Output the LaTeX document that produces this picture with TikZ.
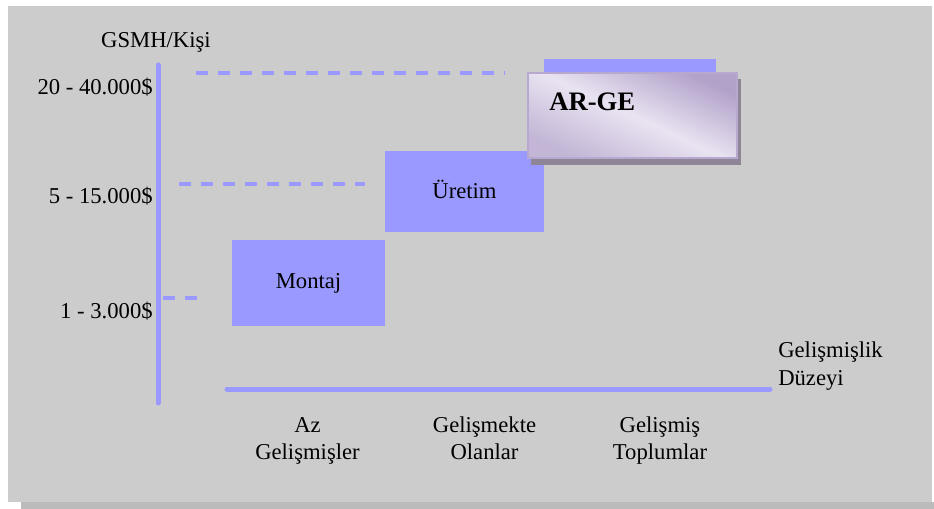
\documentclass[tikz,border=0pt]{standalone}
\usepackage{fontspec}
\setmainfont{Liberation Serif}
\usetikzlibrary{positioning}
\definecolor{barblue}{HTML}{9999FF}
\definecolor{panel}{HTML}{CCCCCC}
\definecolor{panelshade}{HTML}{BBBBBB}
\definecolor{lavlight}{HTML}{E9E3F1}
\definecolor{lavdark}{HTML}{B2A2CA}
\definecolor{lavedge}{HTML}{B6A8CE}
\definecolor{boxshade}{HTML}{8E8696}

\begin{document}
\begin{tikzpicture}[x=0.75pt, y=-0.75pt,
    every node/.style={font=\fontsize{17}{20.25}\selectfont, inner sep=0pt, text=black},
    level/.style={fill=barblue, draw=none},
    axisline/.style={barblue, line width=3.75pt, line cap=round},
    guide/.style={barblue, line width=3pt, dash pattern=on 9pt off 7.5pt},
    ticklabel/.style={anchor=base east},
    grouplabel/.style={anchor=base, align=center}]
    % panel
    \useasboundingbox (0,0) rectangle (934,509);
    \fill[panelshade] (21,502) rectangle (934,509);
    \fill[panel] (8,6) rectangle (932,502);
    % axes
    \coordinate (ytop) at (158,65);
    \coordinate (ybot) at (158,403);
    \coordinate (xl) at (227,389);
    \coordinate (xr) at (770,389);
    \draw[axisline] (ytop) -- (ybot);
    \draw[axisline] (xl) -- (xr);
    % levels
    \fill[barblue] (544,59) rectangle (716,110);
    \node[level, minimum width=114.75pt, minimum height=64.5pt] (montaj) at (308.5,283) {Montaj\hspace{10.5pt}};
    \node[level, minimum width=119.25pt, minimum height=60.75pt] (uretim) at (464.5,191.5) {\raisebox{3pt}{Üretim}};
    \fill[boxshade] (531,79) rectangle (741,165);
    \node[draw=lavedge, line width=1.5pt, shade, shading=axis, top color=lavdark,
      bottom color=lavdark!70!lavlight, middle color=lavlight, shading angle=-25,
      minimum width=156.75pt, minimum height=63.75pt] (arge) at (632.5,115.5) {};
    \node[anchor=base west, font=\fontsize{20}{24}\selectfont\bfseries] (argetxt) at (549,111) {AR-GE};
    % guides
    \coordinate (g1a) at (196,73);
    \coordinate (g1b) at (505,73);
    \coordinate (g2a) at (179,184);
    \coordinate (g2b) at (365,184);
    \coordinate (g3a) at (163,298);
    \coordinate (g3b) at (200,298);
    \draw[guide] (g1a) -- (g1b);
    \draw[guide] (g2a) -- (g2b);
    \draw[guide] (g3a) -- (g3b);
    % labels
    \node[anchor=base] (ytitle) at (156,48) {GSMH/Kişi};
    \node[ticklabel] (t1) at (153,95) {20 - 40.000\$};
    \node[ticklabel] (t2) at (153,204) {5 - 15.000\$};
    \node[ticklabel] (t3) at (153,318) {1 - 3.000\$};
    \node[anchor=base west, align=left, font=\fontsize{17}{21}\selectfont] (xtitle) at (778,385) {Gelişmişlik\\Düzeyi};
    \node[grouplabel] (az) at (307.5,459) {Az\\Gelişmişler};
    \node[grouplabel] (gelismekte) at (484.5,459) {Gelişmekte\\Olanlar};
    \node[grouplabel] (gelismis) at (660,459) {Gelişmiş\\Toplumlar};
  \end{tikzpicture}
\end{document}
